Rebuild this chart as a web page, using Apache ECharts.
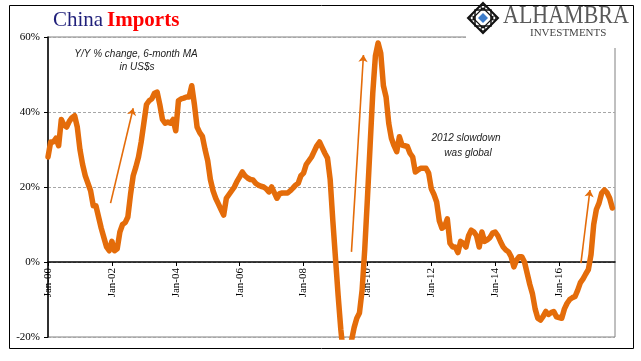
<!DOCTYPE html>
<html><head><meta charset="utf-8">
<script src="https://cdn.jsdelivr.net/npm/echarts@6/dist/echarts.min.js"></script>
<style>html,body{margin:0;padding:0;background:#fff}#c{width:641px;height:361px}</style>
</head><body><div id="c"></div>
<script>
// Monthly values, Jan 2000 .. Sep 2017 (Y/Y % change, 6-month MA)
const values = [
  28, 32, 32, 33, 31, 38, 36.5, 36, 37.5, 38.5, 39, 36,
  30, 26, 23, 21, 19, 15, 15, 12, 9, 6.5, 4, 3,
  5.5, 3, 3.5, 8, 10, 10.5, 12, 18, 23, 25.3, 28, 32,
  37, 42, 43, 43.5, 45, 45.3, 42, 38, 37, 37.3, 37, 38,
  35, 43, 43.5, 43.7, 44, 44, 47, 42, 36, 34.5, 33.5, 30,
  27, 22, 19, 17, 15.5, 14, 12.5, 17, 18, 19, 20, 21.5,
  22.7, 24, 23, 22.4, 22, 21.9, 21, 20.5, 20.2, 20, 19.5, 18.7,
  20, 18.5, 17, 18.2, 18.4, 18.4, 18.4, 19, 19.7, 20.5, 21, 23,
  23.7, 26, 27, 28, 29.5, 31, 32, 30.5, 29, 27.7, 22, 11,
  1, -9, -18, -25, -27, -25, -21, -17.5, -15, -13.6, -7.5, 3.5,
  17, 31, 45, 55, 58.4, 55.7, 47, 44, 37, 33, 31, 29.4,
  33.4, 31.2, 31, 30.8, 29, 28, 24, 24.5, 25, 25, 25, 23.7,
  19.5, 18, 16, 11, 9, 9.5, 11.5, 5, 4, 4, 2.5, 5.5,
  5, 4, 7, 8.5, 8, 7, 4, 8, 5.5, 5.9, 6.5, 7.7,
  8, 7, 5.4, 4, 3.2, 2.7, 1.4, -1.3, 0.5, 1.4, 1.4, 0,
  -3, -6, -8.5, -12.5, -15, -15.5, -14.5, -13.2, -14, -13.5, -13.2, -14.6,
  -14.8, -15, -12.5, -11, -10, -9.5, -9.2, -7.5, -5.5, -4.5, -3.2, -2,
  2, 10, 14, 15.7, 18.4, 19.2, 18.5, 17, 14.4
];
const tickMonths = [0, 24, 48, 72, 96, 120, 144, 168, 192];
const tickLabels = ['Jan-00', 'Jan-02', 'Jan-04', 'Jan-06', 'Jan-08', 'Jan-10', 'Jan-12', 'Jan-14', 'Jan-16'];
const yMin = -20, yMax = 60, yStep = 20;
// annotation arrows in data space: [month index, value] start -> end
const arrowStarts = [[23.5, 15.7], [114, 2.7], [200.2, -0.3]];
const arrowEnds   = [[32, 41], [118.5, 55.2], [203.6, 19.2]];

const ORANGE = '#E46C0A';
const serif = 'Liberation Serif';
const chart = echarts.init(document.getElementById('c'), null, {renderer: 'canvas'});

const seriesData = values.map((v, i) => [i, v]);
const arrowData = arrowStarts.map((s, i) => [{coord: s}, {coord: arrowEnds[i]}]);

const gridTop = 37, gridBottom = 24, plotH = 361 - gridTop - gridBottom;
// place the category axis on the 0% line
const zeroOffset = -plotH * (0 - yMin) / (yMax - yMin);

chart.setOption({
  animation: false,
  backgroundColor: '#fff',
  grid: {
    left: 48, right: 26, top: gridTop, bottom: gridBottom,
    containLabel: false, outerBoundsMode: 'none',
    show: true, borderColor: '#808080', borderWidth: 1, backgroundColor: 'transparent'
  },
  xAxis: {
    type: 'value', min: 0, max: 213, position: 'bottom', offset: zeroOffset,
    splitLine: {show: false},
    axisLine: {show: true, onZero: false, lineStyle: {color: '#000', width: 1.5}},
    axisTick: {show: true, length: 4, lineStyle: {color: '#000'}, customValues: tickMonths},
    axisLabel: {
      customValues: tickMonths,
      rotate: 90, margin: 6, fontFamily: serif, fontSize: 11, color: '#000',
      formatter: v => { const k = tickMonths.indexOf(v); return k >= 0 ? tickLabels[k] : ''; }
    }
  },
  yAxis: {
    type: 'value', min: yMin, max: yMax, interval: yStep,
    axisLine: {show: true, lineStyle: {color: '#000', width: 1.5}},
    axisTick: {show: true, length: 4, lineStyle: {color: '#000'}},
    axisLabel: {formatter: v => v + '%', fontFamily: serif, fontSize: 11, color: '#000', margin: 8},
    splitLine: {show: true, lineStyle: {color: '#a6a6a6', type: [3, 2], width: 1}}
  },
  series: [{
    type: 'line',
    data: seriesData,
    showSymbol: false,
    symbol: 'none',
    clip: true,
    lineStyle: {color: ORANGE, width: 5.5, join: 'round', cap: 'round'},
    markLine: {
      silent: true,
      symbol: ['none', 'arrow'],
      symbolSize: 7,
      label: {show: false},
      lineStyle: {color: ORANGE, width: 1.6, type: 'solid'},
      emphasis: {disabled: true},
      data: arrowData
    }
  }],
  graphic: [
    {type: 'rect', z: 10, shape: {x: 466, y: 0, width: 175, height: 48}, style: {fill: '#fff'}},
    {type: 'rect', z: 20, shape: {x: 9.5, y: 5.5, width: 624, height: 343}, style: {fill: 'none', stroke: '#000', lineWidth: 1}},
    {type: 'text', z: 30, left: 53, top: 10, style: {text: 'China', font: '21px "Liberation Serif"', fill: '#1F1F7A'}},
    {type: 'text', z: 30, left: 107, top: 10, style: {text: 'Imports', font: 'bold 21px "Liberation Serif"', fill: '#FF0000'}},
    {type: 'polygon', z: 30, shape: {points: [[483, 3], [498, 18], [483, 33], [468, 18]]}, style: {fill: 'none', stroke: '#111', lineWidth: 2}},
    {type: 'rect', z: 30, shape: {x: 475, y: 10, width: 16, height: 16}, style: {fill: 'none', stroke: '#111', lineWidth: 1.5}},
    {type: 'polygon', z: 30, shape: {points: [[483, 8], [493, 18], [483, 28], [473, 18]]}, style: {fill: 'none', stroke: '#111', lineWidth: 1.2}},
    {type: 'circle', z: 30, shape: {cx: 483, cy: 7, r: 2}, style: {fill: 'none', stroke: '#111', lineWidth: 1.2}},
    {type: 'circle', z: 30, shape: {cx: 483, cy: 29, r: 2}, style: {fill: 'none', stroke: '#111', lineWidth: 1.2}},
    {type: 'circle', z: 30, shape: {cx: 472, cy: 18, r: 2}, style: {fill: 'none', stroke: '#111', lineWidth: 1.2}},
    {type: 'circle', z: 30, shape: {cx: 494, cy: 18, r: 2}, style: {fill: 'none', stroke: '#111', lineWidth: 1.2}},
    {type: 'polygon', z: 31, shape: {points: [[483, 13], [488, 18], [483, 23], [478, 18]]}, style: {fill: '#3D7CC9'}},
    {type: 'text', z: 30, x: 503, y: 19, scaleY: 1.15, originX: 503, originY: 19,
      style: {text: 'ALHAMBRA', font: '22px "Liberation Serif"', fill: '#5a5a5a', verticalAlign: 'middle'}},
    {type: 'text', z: 30, x: 530, y: 33, style: {text: 'INVESTMENTS', font: '11px "Liberation Serif"', fill: '#444', verticalAlign: 'middle'}},
    {type: 'text', z: 30, x: 136, y: 54, style: {text: 'Y/Y % change, 6-month MA', font: 'italic 10px "Liberation Sans"', fill: '#222', align: 'center', verticalAlign: 'middle'}},
    {type: 'text', z: 30, x: 137, y: 67, style: {text: 'in US$s', font: 'italic 10px "Liberation Sans"', fill: '#222', align: 'center', verticalAlign: 'middle'}},
    {type: 'text', z: 30, x: 466, y: 138, style: {text: '2012 slowdown', font: 'italic 10px "Liberation Sans"', fill: '#222', align: 'center', verticalAlign: 'middle'}},
    {type: 'text', z: 30, x: 468, y: 153, style: {text: 'was global', font: 'italic 10px "Liberation Sans"', fill: '#222', align: 'center', verticalAlign: 'middle'}}
  ]
});
</script>
</body></html>
